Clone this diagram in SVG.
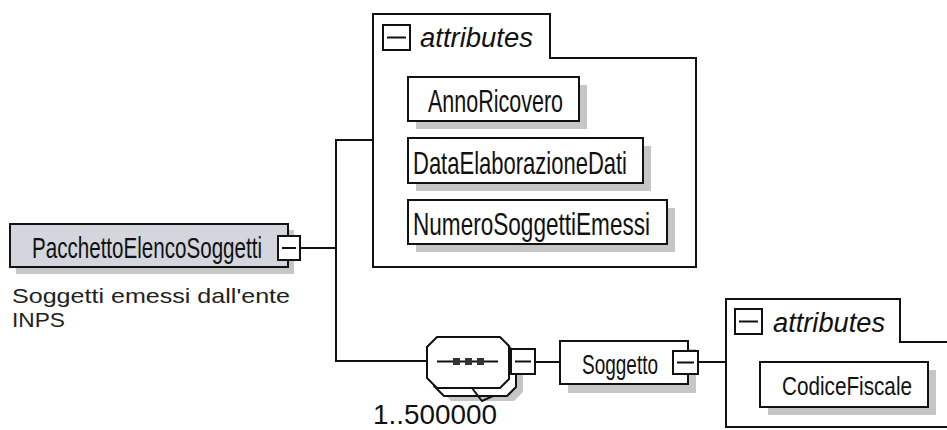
<svg xmlns="http://www.w3.org/2000/svg" width="947" height="430" viewBox="0 0 947 430">
<style>
.box{fill:#fff;stroke:#111;stroke-width:2}
.main{fill:#d3d6dc;stroke:#111;stroke-width:2}
.sh{fill:#c6c6c6;stroke:none}
.btn{fill:#fff;stroke:#111;stroke-width:2}
.ln{fill:none;stroke:#111;stroke-width:2}
.nm{font-family:"Liberation Sans",Arial,sans-serif;fill:#111}
.at{font-family:"Liberation Sans",Arial,sans-serif;font-style:italic;font-size:27px;fill:#111}
.ds{font-family:"Liberation Sans",Arial,sans-serif;font-size:21px;fill:#222}
</style>
<rect width="947" height="430" fill="#fff"/>
<g id="connectors">
<polyline class="ln" points="300,248 336,248"/>
<polyline class="ln" points="373,140 336,140 336,361 427,361"/>
<polyline class="ln" points="535,362 560,362"/>
<polyline class="ln" points="698,362 726,362"/>
</g>
<g id="PacchettoElencoSoggetti">
<rect class="sh" x="16" y="230" width="278" height="44"/>
<rect class="main" x="10" y="224" width="278" height="43"/>
<text class="nm" x="32" y="258" font-size="29" textLength="230" lengthAdjust="spacingAndGlyphs">PacchettoElencoSoggetti</text>
<rect class="btn" x="278" y="236" width="22" height="24"/>
<line class="ln" x1="282" y1="248" x2="296" y2="248"/>
<text class="ds" x="12" y="303" textLength="278" lengthAdjust="spacingAndGlyphs">Soggetti emessi dall'ente</text>
<text class="ds" x="12" y="327" textLength="53" lengthAdjust="spacingAndGlyphs">INPS</text>
</g>
<g id="attributes1">
<path class="box" d="M373,14 H550 V58 H696 V267 H373 Z"/>
<rect class="btn" x="383" y="25" width="27" height="25"/>
<line class="ln" x1="387" y1="37.5" x2="406" y2="37.5"/>
<text class="at" x="420" y="47" textLength="113" lengthAdjust="spacingAndGlyphs">attributes</text>
</g>
<g id="AnnoRicovero">
<rect class="sh" x="416" y="85" width="171" height="44"/>
<rect class="box" x="408" y="77" width="171" height="44"/>
<text class="nm" x="428" y="112" font-size="32" textLength="135" lengthAdjust="spacingAndGlyphs">AnnoRicovero</text>
</g>
<g id="DataElaborazioneDati">
<rect class="sh" x="416" y="146" width="235" height="45"/>
<rect class="box" x="408" y="138" width="235" height="45"/>
<text class="nm" x="413" y="174" font-size="32" textLength="214" lengthAdjust="spacingAndGlyphs">DataElaborazioneDati</text>
</g>
<g id="NumeroSoggettiEmessi">
<rect class="sh" x="416" y="208" width="259" height="44"/>
<rect class="box" x="408" y="200" width="259" height="44"/>
<text class="nm" x="413" y="235" font-size="32" textLength="237" lengthAdjust="spacingAndGlyphs">NumeroSoggettiEmessi</text>
</g>
<g id="sequence">
<polygon class="sh" points="451,350 514,350 523,359 523,392 514,401 451,401 441,391 441,360"/>
<polygon class="box" points="444,345 507,345 516,354 516,387 507,396 444,396 434,386 434,355"/>
<polyline class="ln" points="472,388 482,401 493,396"/>
<polygon class="box" points="437,337 500,337 509,346 509,379 500,388 437,388 427,378 427,347"/>
<line class="ln" x1="437" y1="361.5" x2="498" y2="361.5"/>
<rect x="453" y="358" width="7" height="7" fill="#333"/>
<rect x="465" y="358" width="7" height="7" fill="#333"/>
<rect x="477" y="358" width="7" height="7" fill="#333"/>
<rect class="btn" x="511" y="349" width="24" height="25"/>
<line class="ln" x1="515" y1="361.5" x2="531" y2="361.5"/>
<text class="nm" x="373" y="424" font-size="27" textLength="124" lengthAdjust="spacingAndGlyphs">1..500000</text>
</g>
<g id="Soggetto">
<rect class="sh" x="568" y="349" width="128" height="44"/>
<rect class="box" x="560" y="341" width="128" height="43"/>
<text class="nm" x="582" y="374" font-size="27" textLength="76" lengthAdjust="spacingAndGlyphs">Soggetto</text>
<rect class="btn" x="673" y="351" width="25" height="23"/>
<line class="ln" x1="677" y1="362.5" x2="694" y2="362.5"/>
</g>
<g id="attributes2">
<path class="box" d="M950,342 H900 V299 H726 V427 H950"/>
<rect class="btn" x="735" y="309" width="27" height="25"/>
<line class="ln" x1="739" y1="321.5" x2="758" y2="321.5"/>
<text class="at" x="773" y="332" textLength="112" lengthAdjust="spacingAndGlyphs">attributes</text>
</g>
<g id="CodiceFiscale">
<rect class="sh" x="768" y="370" width="168" height="45"/>
<rect class="box" x="760" y="362" width="168" height="45"/>
<text class="nm" x="782" y="395" font-size="26" textLength="130" lengthAdjust="spacingAndGlyphs">CodiceFiscale</text>
</g>
</svg>
